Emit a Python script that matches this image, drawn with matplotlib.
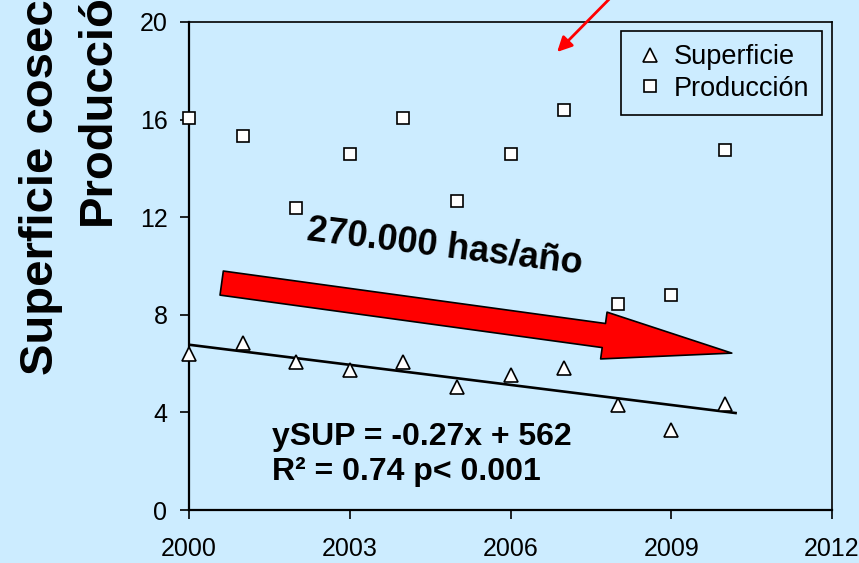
import numpy as np
import matplotlib
matplotlib.use("Agg")
from matplotlib import pyplot as plt

plt.rcParams['font.family'] = ['Liberation Sans', 'DejaVu Sans']

# datos
anios = [2000, 2001, 2002, 2003, 2004, 2005, 2006, 2007, 2008, 2009, 2010]
superficie = [6.39, 6.84, 6.07, 5.74, 6.07, 5.04, 5.53, 5.82, 4.30, 3.28, 4.34]
produccion = [16.05, 15.33, 12.38, 14.59, 16.07, 12.66, 14.59, 16.39, 8.44, 8.81, 14.75]

x_ticks = [2000, 2003, 2006, 2009, 2012]
y_ticks = [0, 4, 8, 12, 16, 20]

fondo = '#CCECFF'

fig = plt.figure(figsize=(8.59, 5.63), dpi=100, facecolor=fondo)
ax = fig.add_axes([0.220, 0.0941, 0.7486, 0.8669])
ax.set_facecolor(fondo)

# puntos
ax.plot(anios, superficie, linestyle='none', marker='^', ms=10.5,
        mfc='white', mec='black', mew=1.2, label='Superficie', zorder=4,
        clip_on=False)
ax.plot(anios, produccion, linestyle='none', marker='s', ms=9,
        mfc='white', mec='black', mew=1.2, label='Producción', zorder=4,
        clip_on=False)

# recta de regresion de la superficie
pend, orden = np.polyfit(anios, superficie, 1)
xr = np.array([2000, 2010.2])
ax.plot(xr, pend * xr + orden, color='black', lw=1.9, zorder=3)

# flecha roja grande
ax.annotate('', xy=(2010.13, 6.43), xytext=(2000.61, 9.30),
            arrowprops=dict(arrowstyle='simple,head_length=9.3,head_width=3.4,tail_width=1.75',
                            mutation_scale=10, fc='#FF0000', ec='black', lw=1.2,
                            shrinkA=0, shrinkB=0), zorder=2)

ax.text(2004.78, 10.78, '270.000 has/año', fontsize=26, fontweight='bold',
        rotation=-7, ha='center', va='center', rotation_mode='anchor')

# flecha fina desde arriba
ax.annotate('', xy=(2006.87, 18.77), xytext=(2008.14, 21.6),
            arrowprops=dict(arrowstyle='-|>', color='#FF0000', lw=2,
                            mutation_scale=22, shrinkA=0, shrinkB=0),
            annotation_clip=False)

ax.text(2001.55, 3.0, 'ySUP = -0.27x + 562', fontsize=23, fontweight='bold',
        ha='left', va='center')
ax.text(2001.55, 1.55, 'R² = 0.74 p< 0.001', fontsize=23, fontweight='bold',
        ha='left', va='center')

ax.set_xlim(2000, 2012)
ax.set_ylim(0, 20)
ax.set_xticks(x_ticks)
ax.set_yticks(y_ticks)
ax.tick_params(axis='both', direction='out', length=6.5, width=1.2,
               labelsize=18, colors='black')
ax.tick_params(axis='x', pad=13)
ax.tick_params(axis='y', pad=9)

for lado in ['left', 'bottom']:
    ax.spines[lado].set_linewidth(1.6)
for lado in ['top', 'right']:
    ax.spines[lado].set_linewidth(1.2)

leg = ax.legend(loc='upper right', bbox_to_anchor=(0.985, 0.982),
                borderaxespad=0, fontsize=19.5, frameon=True, fancybox=False,
                handlelength=1.2, handletextpad=0.25, borderpad=0.5,
                labelspacing=0.2, markerscale=0.9)
leg.get_frame().set_edgecolor('black')
leg.get_frame().set_facecolor(fondo)
leg.get_frame().set_linewidth(1.2)
leg.get_frame().set_alpha(1)

# titulo del eje y (cortado en el original)
fig.text(53 / 859, 1 - 375 / 563, 'Superficie cosechada', fontsize=34,
         fontweight='bold', rotation=90, rotation_mode='anchor',
         ha='left', va='baseline')
fig.text(110 / 859, 1 - 225 / 563, 'Producción', fontsize=34,
         fontweight='bold', rotation=90, rotation_mode='anchor',
         ha='left', va='baseline')

fig.savefig('out.png', dpi=100, facecolor=fondo)
